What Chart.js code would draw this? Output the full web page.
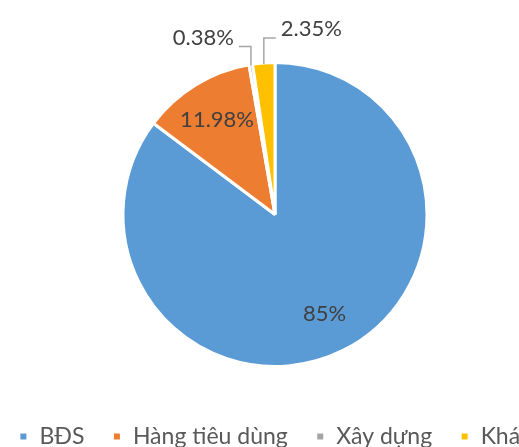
<!DOCTYPE html>
<html>
<head>
<meta charset="utf-8">
<script src="https://cdn.jsdelivr.net/npm/chart.js@4.4.0/dist/chart.umd.min.js"></script>
<style>
html, body { margin: 0; padding: 0; overflow: hidden; background: #fff; }
#wrap { width: 600px; height: 458px; margin-left: -25px; }
</style>
</head>
<body>
<div id="wrap"><canvas id="myChart" width="600" height="458"></canvas></div>
<script>
var labels = ["BĐS", "Hàng tiêu dùng", "Xây dựng", "Khác"];
var values = [85, 11.98, 0.38, 2.35];
var valueText = ["85%", "11.98%", "0.38%", "2.35%"];
var colors = ["#5B9BD5", "#ED7D31", "#A5A5A5", "#FFC000"];
// where each value label goes: inside the slice, or outside with a leader line
var labelSide = ["in", "in", "left", "right"];
var leaderRise = [0, 0, 19, 26];

var pieLabels = {
    id: 'pieLabels',
    afterDatasetsDraw: function(chart) {
        var ctx = chart.ctx;
        var meta = chart.getDatasetMeta(0);
        ctx.save();
        ctx.font = '22px Lato, "Noto Sans", sans-serif';
        ctx.fillStyle = '#404040';
        ctx.strokeStyle = '#A6A6A6';
        ctx.lineWidth = 1.5;
        meta.data.forEach(function(arc, i) {
            var p = arc.getProps(['x', 'y', 'startAngle', 'endAngle', 'outerRadius'], true);
            var mid = (p.startAngle + p.endAngle) / 2;
            if (labelSide[i] == "in") {
                var r = p.outerRadius * 0.73;
                ctx.textAlign = 'center';
                ctx.textBaseline = 'middle';
                ctx.fillText(valueText[i], p.x + Math.cos(mid) * r, p.y + Math.sin(mid) * r);
            } else {
                var ax = p.x + Math.cos(mid) * (p.outerRadius - 1);
                var ay = p.y + Math.sin(mid) * (p.outerRadius - 1);
                var ey = ay - leaderRise[i];
                var dir = labelSide[i] == "left" ? -1 : 1;
                var hx = ax + dir * 12;
                ctx.beginPath();
                ctx.moveTo(ax, ay);
                ctx.lineTo(ax, ey);
                ctx.lineTo(hx, ey);
                ctx.stroke();
                ctx.textAlign = dir < 0 ? 'right' : 'left';
                ctx.textBaseline = 'middle';
                ctx.fillText(valueText[i], hx + dir * 5, ey - 9);
            }
        });
        ctx.restore();
    }
};

var ctx = document.getElementById("myChart").getContext("2d");
var myChart = new Chart(ctx, {
    type: 'pie',
    data: {
        labels: labels,
        datasets: [{
            data: values,
            backgroundColor: colors,
            borderColor: '#ffffff',
            borderWidth: 3,
            radius: 152
        }]
    },
    options: {
        responsive: false,
        animation: false,
        layout: { padding: { left: 0, right: 0, top: 32, bottom: 0 } },
        plugins: {
            legend: {
                position: 'bottom',
                labels: {
                    usePointStyle: true,
                    pointStyle: 'rect',
                    boxWidth: 9,
                    boxHeight: 9,
                    padding: 28,
                    color: '#595959',
                    font: { family: 'Lato, "Noto Sans", sans-serif', size: 23 }
                }
            },
            tooltip: { enabled: false }
        }
    },
    plugins: [pieLabels]
});
</script>
</body>
</html>
